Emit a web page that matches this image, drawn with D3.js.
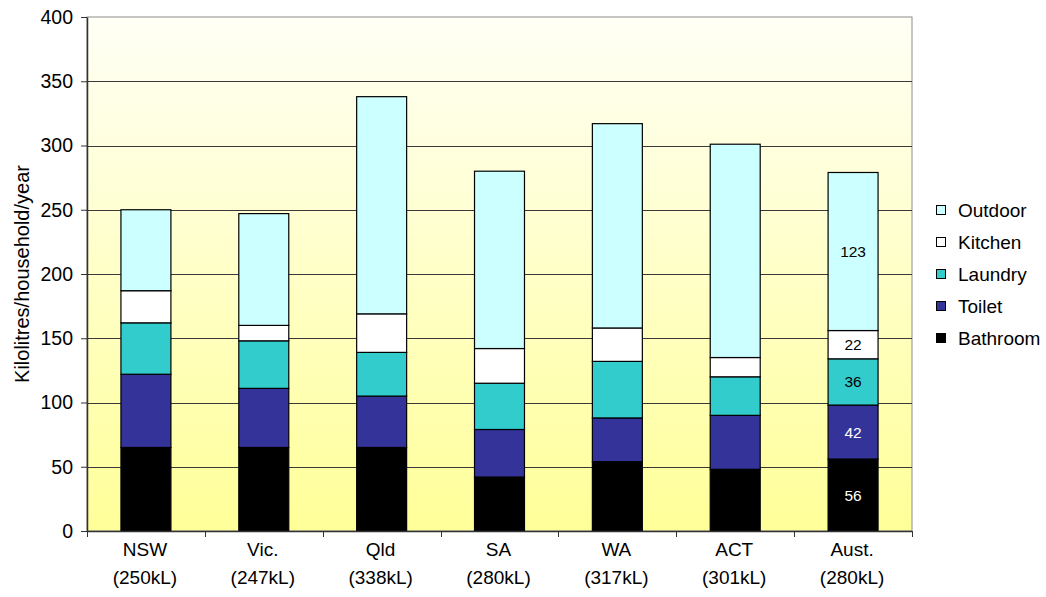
<!DOCTYPE html>
<html>
<head>
<meta charset="utf-8">
<script src="https://cdn.jsdelivr.net/npm/d3@7"></script>
<style>
  html, body { margin: 0; padding: 0; background: #ffffff; }
  svg { display: block; font-family: "Liberation Sans", Arial, sans-serif; }
</style>
</head>
<body>
<svg id="chart" width="1046" height="597"></svg>
<script>
// Household water use by end use, kilolitres per household per year
const categories = ["NSW", "Vic.", "Qld", "SA", "WA", "ACT", "Aust."];
const totalLabels = ["(250kL)", "(247kL)", "(338kL)", "(280kL)", "(317kL)", "(301kL)", "(280kL)"];
const bathroom = [65, 65, 65, 42, 54, 48, 56];
const toilet   = [57, 46, 40, 37, 34, 42, 42];
const laundry  = [40, 37, 34, 36, 44, 30, 36];
const kitchen  = [25, 12, 30, 27, 26, 15, 22];
const outdoor  = [63, 87, 169, 138, 159, 166, 123];
const yTicks = [0, 50, 100, 150, 200, 250, 300, 350, 400];
const seriesNames = ["Bathroom", "Toilet", "Laundry", "Kitchen", "Outdoor"];
const seriesColors = ["#000000", "#333399", "#33CCCC", "#FFFFFF", "#CCFFFF"];
const labelledCategory = "Aust.";

const series = { Bathroom: bathroom, Toilet: toilet, Laundry: laundry, Kitchen: kitchen, Outdoor: outdoor };
const rows = categories.map((c, i) => {
  const r = { category: c };
  seriesNames.forEach(k => { r[k] = series[k][i]; });
  return r;
});

const svg = d3.select("#chart");
const plot = { left: 87, right: 912, top: 17, bottom: 531 };

const x = d3.scaleBand()
  .domain(categories)
  .range([plot.left, plot.right])
  .paddingInner(0.576)
  .paddingOuter(0.288);
const slot = d3.scaleBand().domain(categories).range([plot.left, plot.right]).padding(0);
const y = d3.scaleLinear().domain([0, 400]).range([plot.bottom, plot.top]);
const color = d3.scaleOrdinal().domain(seriesNames).range(seriesColors);

// Plot area background gradient
const defs = svg.append("defs");
const grad = defs.append("linearGradient")
  .attr("id", "plotBg").attr("x1", 0).attr("y1", 0).attr("x2", 0).attr("y2", 1);
grad.append("stop").attr("offset", "0%").attr("stop-color", "#FFFFF6");
grad.append("stop").attr("offset", "100%").attr("stop-color", "#FFFF99");

svg.append("rect")
  .attr("x", plot.left).attr("y", plot.top)
  .attr("width", plot.right - plot.left).attr("height", plot.bottom - plot.top)
  .attr("fill", "url(#plotBg)")
  .attr("stroke", "#8c8c8c").attr("stroke-width", 1);

// Horizontal gridlines
svg.append("g")
  .selectAll("line")
  .data(yTicks.filter(t => t > 0 && t < 400))
  .join("line")
  .attr("x1", plot.left).attr("x2", plot.right)
  .attr("y1", d => Math.round(y(d)) + 0.5).attr("y2", d => Math.round(y(d)) + 0.5)
  .attr("stroke", "#3a3a3a").attr("stroke-width", 1);

// Stacked bars
const stacked = d3.stack().keys(seriesNames)(rows);
const layers = svg.append("g")
  .selectAll("g")
  .data(stacked)
  .join("g")
  .attr("fill", d => color(d.key));

layers.selectAll("rect")
  .data(d => d)
  .join("rect")
  .attr("x", d => x(d.data.category))
  .attr("width", x.bandwidth())
  .attr("y", d => y(d[1]))
  .attr("height", d => y(d[0]) - y(d[1]))
  .attr("stroke", "#000000")
  .attr("stroke-width", 1.2);

// Value labels inside the national bar
const labelFill = { Bathroom: "#ffffff", Toilet: "#ffffff", Laundry: "#000000", Kitchen: "#000000", Outdoor: "#000000" };
svg.append("g")
  .selectAll("text")
  .data(stacked.map(layer => ({ key: layer.key, seg: layer.find(s => s.data.category === labelledCategory) })))
  .join("text")
  .attr("x", d => x(labelledCategory) + x.bandwidth() / 2)
  .attr("y", d => y((d.seg[0] + d.seg[1]) / 2))
  .attr("text-anchor", "middle")
  .attr("dominant-baseline", "central")
  .attr("font-size", 15.5)
  .attr("fill", d => labelFill[d.key])
  .text(d => d.seg.data[d.key]);

// Y axis
const yAxis = svg.append("g")
  .attr("transform", `translate(${plot.left},0)`)
  .call(d3.axisLeft(y).tickValues(yTicks).tickSize(6).tickPadding(8).tickSizeOuter(0));
yAxis.select(".domain").attr("stroke", "#333333").attr("stroke-width", 1.5);
yAxis.selectAll(".tick line").attr("stroke", "#333333");
yAxis.selectAll(".tick text").attr("font-size", 19.5).attr("fill", "#000").attr("font-family", "Liberation Sans, Arial, sans-serif");

// X axis baseline and tick marks between categories
svg.append("line")
  .attr("x1", plot.left).attr("x2", plot.right)
  .attr("y1", plot.bottom + 0.5).attr("y2", plot.bottom + 0.5)
  .attr("stroke", "#333333").attr("stroke-width", 1.5);
const boundaries = categories.map(c => slot(c)).concat([slot(categories[categories.length - 1]) + slot.bandwidth()]);
svg.append("g")
  .selectAll("line")
  .data(boundaries)
  .join("line")
  .attr("x1", d => Math.round(d) + 0.5).attr("x2", d => Math.round(d) + 0.5)
  .attr("y1", plot.bottom).attr("y2", plot.bottom + 6)
  .attr("stroke", "#333333");

// Category labels (two lines)
const xl = svg.append("g")
  .selectAll("text")
  .data(categories)
  .join("text")
  .attr("text-anchor", "middle")
  .attr("font-size", 19)
  .attr("fill", "#000");
xl.append("tspan")
  .attr("x", d => x(d) + x.bandwidth() / 2 - 1)
  .attr("y", 556)
  .text(d => d);
xl.append("tspan")
  .attr("x", d => x(d) + x.bandwidth() / 2 - 1)
  .attr("y", 584)
  .text((d, i) => totalLabels[i]);

// Y axis title
svg.append("text")
  .attr("transform", `translate(22,${(plot.top + plot.bottom) / 2}) rotate(-90)`)
  .attr("text-anchor", "middle")
  .attr("dominant-baseline", "central")
  .attr("font-size", 20)
  .attr("fill", "#000")
  .text("Kilolitres/household/year");

// Legend, top entry first
const legendOrder = seriesNames.slice().reverse();
const legend = svg.append("g")
  .selectAll("g")
  .data(legendOrder)
  .join("g")
  .attr("transform", (d, i) => `translate(936,${210 + i * 32})`);
legend.append("rect")
  .attr("x", 0.5).attr("y", -4.5)
  .attr("width", 9).attr("height", 9)
  .attr("fill", d => color(d))
  .attr("stroke", "#000").attr("stroke-width", 1);
legend.append("text")
  .attr("x", 22).attr("y", 0)
  .attr("dominant-baseline", "central")
  .attr("font-size", 19)
  .attr("fill", "#000")
  .text(d => d);
</script>
</body>
</html>
